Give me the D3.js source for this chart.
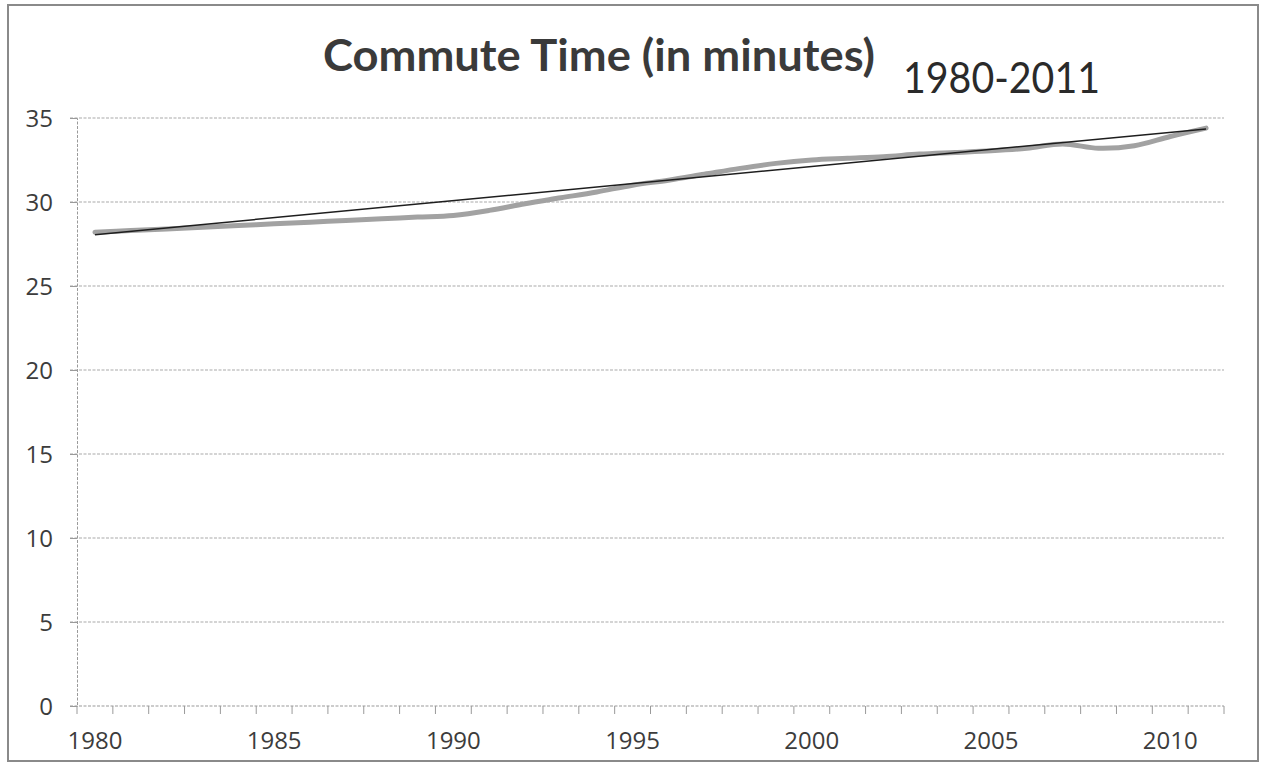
<!DOCTYPE html>
<html>
<head>
<meta charset="utf-8">
<script src="https://cdn.jsdelivr.net/npm/d3@7"></script>
<style>
  html, body { margin: 0; padding: 0; background: #fff; }
  svg { display: block; }
</style>
</head>
<body>
<svg id="chart" width="1262" height="771"></svg>
<script>
// ---- data ----
const years = [1980,1981,1982,1983,1984,1985,1986,1987,1988,1989,
               1990,1991,1992,1993,1994,1995,1996,1997,1998,1999,
               2000,2001,2002,2003,2004,2005,2006,2007,2008,2009,
               2010,2011];
const commuteMinutes = [28.2,28.3,28.4,28.5,28.6,28.7,28.8,28.9,29.0,29.1,
                        29.2,29.5,29.9,30.25,30.6,31.0,31.3,31.65,32.0,32.3,
                        32.5,32.6,32.7,32.85,32.95,33.05,33.2,33.45,33.2,33.35,
                        33.9,34.4];
const trendYears = [1980, 2011];
const trendMinutes = [28.05, 34.35];
const yTicks = [0,5,10,15,20,25,30,35];
const xLabelYears = [1980,1985,1990,1995,2000,2005,2010];
const titleText = "Commute Time (in minutes)";
const subtitleText = "1980-2011";

// ---- drawing ----
(function () {
const svg = d3.select("#chart");
const pLeft = 77, pRight = 1224, pTop = 118, pBottom = 706;

const x = d3.scaleBand().domain(years).range([pLeft, pRight]).padding(0);
const y = d3.scaleLinear().domain([0, 35]).range([pBottom, pTop]);
const cx = d => x(d) + x.bandwidth() / 2;

// outer border
svg.append("rect")
  .attr("x", 8).attr("y", 5).attr("width", 1250).attr("height", 756)
  .attr("fill", "none").attr("stroke", "#8a8a8a").attr("stroke-width", 2);

// gridlines
svg.append("g").selectAll("line").data(yTicks.filter(t => t > 0)).join("line")
  .attr("x1", pLeft - 7).attr("x2", pRight)
  .attr("y1", d => y(d)).attr("y2", d => y(d))
  .attr("stroke", "#a9a9a9").attr("stroke-width", 1.2)
  .attr("stroke-dasharray", "3,1.5");

// y axis
const yAxis = d3.axisLeft(y).tickValues(yTicks).tickSize(7).tickPadding(17);
const gy = svg.append("g").attr("transform", `translate(${pLeft},0)`).call(yAxis);
gy.select(".domain").attr("stroke", "#9a9a9a").attr("stroke-dasharray", "3,1.5");
gy.selectAll(".tick line").attr("stroke", "#9a9a9a");
gy.selectAll(".tick text")
  .attr("font-family", "'Open Sans', sans-serif").attr("font-size", 24)
  .attr("fill", "#3c3c3c").attr("dy", "0.36em");

// x axis: ticks between categories, labels every 5 years
const boundaries = years.map(d => x(d)).concat([pRight]);
const gx = svg.append("g");
gx.append("line").attr("x1", pLeft - 7).attr("x2", pRight)
  .attr("y1", pBottom).attr("y2", pBottom)
  .attr("stroke", "#9a9a9a").attr("stroke-width", 1.2).attr("stroke-dasharray", "3,1.5");
gx.selectAll("line.tk").data(boundaries).join("line").attr("class", "tk")
  .attr("x1", d => d).attr("x2", d => d)
  .attr("y1", pBottom).attr("y2", pBottom + 8)
  .attr("stroke", "#9a9a9a").attr("stroke-width", 1);
gx.selectAll("text").data(xLabelYears).join("text")
  .attr("x", d => cx(d)).attr("y", 749)
  .attr("text-anchor", "middle")
  .attr("font-family", "'Open Sans', sans-serif").attr("font-size", 24)
  .attr("fill", "#3c3c3c")
  .text(d => d);

// data line (smoothed, thick gray)
const line = d3.line().x((d, i) => cx(years[i])).y(d => y(d)).curve(d3.curveCatmullRom.alpha(0.5));
svg.append("path").datum(commuteMinutes)
  .attr("d", line)
  .attr("fill", "none").attr("stroke", "#a2a2a2").attr("stroke-width", 5)
  .attr("stroke-linecap", "round");

// trend line (thin dark)
const tline = d3.line().x((d, i) => cx(trendYears[i])).y(d => y(d));
svg.append("path").datum(trendMinutes)
  .attr("d", tline)
  .attr("fill", "none").attr("stroke", "#1e1e1e").attr("stroke-width", 1.5);

// titles
svg.append("text")
  .attr("x", 323).attr("y", 71)
  .attr("font-family", "Lato, 'Open Sans', sans-serif").attr("font-weight", "bold")
  .attr("font-size", 43).attr("fill", "#3a3a3a")
  .attr("textLength", 552).attr("lengthAdjust", "spacingAndGlyphs")
  .text(titleText);
svg.append("text")
  .attr("x", 903).attr("y", 93)
  .attr("font-family", "Lato, 'Open Sans', sans-serif")
  .attr("font-size", 42).attr("fill", "#2a2a2a")
  .attr("textLength", 197).attr("lengthAdjust", "spacingAndGlyphs")
  .text(subtitleText);
})();
</script>
</body>
</html>
